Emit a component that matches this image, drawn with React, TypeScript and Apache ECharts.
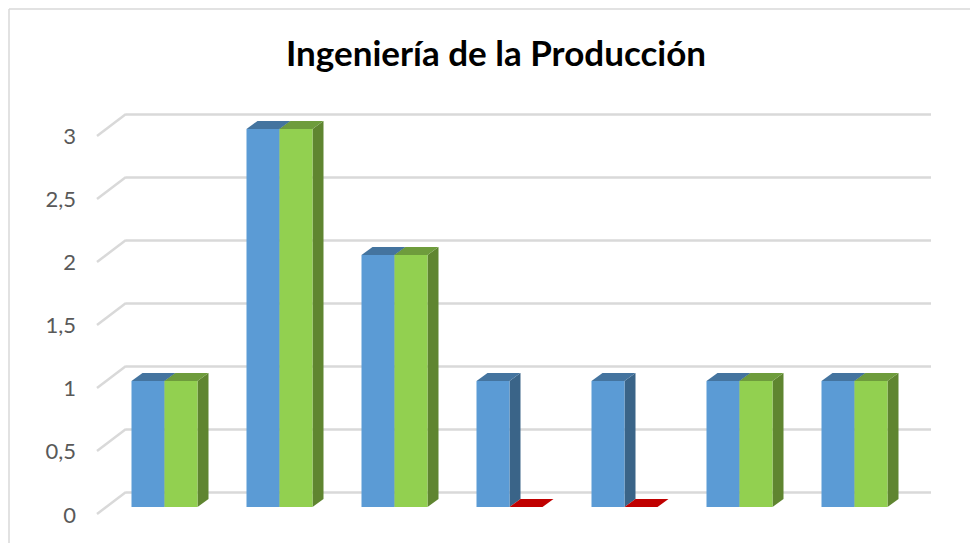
import React, { useEffect, useRef } from "react";
import * as echarts from "echarts";

const titleText = "Ingeniería de la Producción";
const categories = ["1", "2", "3", "4", "5", "6", "7"];
const seriesBlue = [1, 3, 2, 1, 1, 1, 1];
const seriesGreen = [1, 3, 2, 0, 0, 1, 1];
const yTicks = [0, 0.5, 1, 1.5, 2, 2.5, 3];

const BLUE = { front: "#5B9BD5", top: "#44749F", side: "#3A6488" };
const GREEN = { front: "#92D050", top: "#6E9C3C", side: "#5F8530" };
const RED = { front: "#C00000", top: "#C00000", side: "#900000" };

function barRenderer(left: number, right: number, pal: typeof BLUE) {
  return (_p: any, api: any) => {
    const idx = api.value(0);
    const val = api.value(1);
    const c = api.coord([idx, val]);
    const base = api.coord([idx, 0]);
    const x0 = c[0] + left;
    const x1 = c[0] + right;
    const yT = c[1] + 15;
    const yB = base[1] + 15;
    const dx = 11;
    const dy = -8;
    const p = val === 0 ? RED : pal;
    return {
      type: "group",
      children: [
        {
          type: "polygon",
          shape: { points: [[x1, yT], [x1 + dx, yT + dy], [x1 + dx, yB + dy], [x1, yB]] },
          style: { fill: p.side },
        },
        {
          type: "polygon",
          shape: { points: [[x0, yT], [x0 + dx, yT + dy], [x1 + dx, yT + dy], [x1, yT]] },
          style: { fill: p.top },
        },
        {
          type: "rect",
          shape: { x: x0, y: yT, width: x1 - x0, height: yB - yT },
          style: { fill: p.front },
        },
      ],
    };
  };
}

export default function App() {
  const ref = useRef<HTMLDivElement>(null);
  useEffect(() => {
    const chart = echarts.init(ref.current!, undefined, { renderer: "svg" });
    chart.setOption({
      animation: false,
      backgroundColor: "#FFFFFF",
      title: {
        text: titleText,
        left: 491,
        top: 29,
        textAlign: "center",
        textStyle: { fontFamily: "Lato", fontWeight: "bold", fontSize: 35, color: "#000000" },
      },
      graphic: [
        { type: "line", shape: { x1: 9, y1: 9, x2: 970, y2: 9 }, style: { stroke: "#D9D9D9", lineWidth: 1.5 } },
        { type: "line", shape: { x1: 9, y1: 9, x2: 9, y2: 543 }, style: { stroke: "#D9D9D9", lineWidth: 1.5 } },
      ],
      grid: [
        { left: 126, right: 39, top: 114, bottom: 51 },
        { left: 98, right: 67, top: 135, bottom: 29 },
      ],
      xAxis: [
        { type: "category", data: categories, gridIndex: 0, show: false },
        { type: "value", gridIndex: 1, show: false },
      ],
      yAxis: [
        {
          type: "value",
          gridIndex: 0,
          min: 0,
          max: 3,
          interval: 0.5,
          axisLine: { show: false },
          axisTick: { show: false },
          axisLabel: { show: false },
          splitLine: { lineStyle: { color: "#D9D9D9", width: 2.5 } },
        },
        {
          type: "value",
          gridIndex: 1,
          min: 0,
          max: 3,
          interval: 0.5,
          axisLine: { show: false },
          axisTick: { show: false },
          splitLine: { show: false },
          axisLabel: {
            margin: 22,
            fontFamily: "Lato",
            fontSize: 22,
            color: "#595959",
            formatter: (v: number) => String(v).replace(".", ","),
          },
        },
      ],
      series: [
        {
          type: "custom",
          silent: true,
          xAxisIndex: 0,
          yAxisIndex: 0,
          data: yTicks.map((v) => [0, v]),
          encode: { x: 0, y: 1 },
          renderItem: (p: any, api: any) => {
            const y = api.coord([0, api.value(1)])[1];
            const x = p.coordSys.x;
            return {
              type: "line",
              shape: { x1: x, y1: y, x2: x - 29, y2: y + 22 },
              style: { stroke: "#D9D9D9", lineWidth: 2.5 },
            };
          },
        },
        {
          type: "custom",
          name: "A",
          xAxisIndex: 0,
          yAxisIndex: 0,
          data: seriesBlue.map((v, i) => [i, v]),
          encode: { x: 0, y: 1 },
          renderItem: barRenderer(-52, -19, BLUE),
        },
        {
          type: "custom",
          name: "B",
          xAxisIndex: 0,
          yAxisIndex: 0,
          data: seriesGreen.map((v, i) => [i, v]),
          encode: { x: 0, y: 1 },
          renderItem: barRenderer(-19, 14, GREEN),
        },
      ],
    });
    return () => chart.dispose();
  }, []);
  return <div ref={ref} style={{ position: "fixed", left: 0, top: 0, width: 970, height: 543 }} />;
}
